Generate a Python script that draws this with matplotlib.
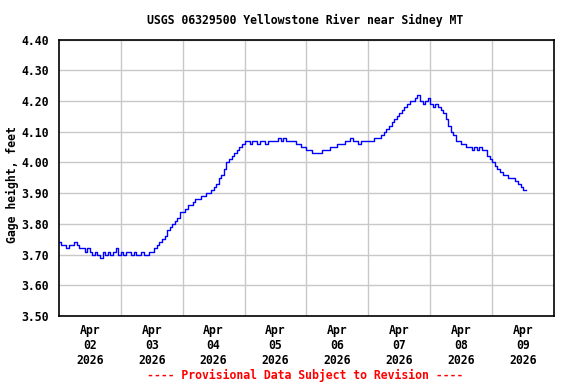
import numpy as np
import pandas as pd
import matplotlib
matplotlib.use("Agg")
import matplotlib.pyplot as plt

title = "USGS 06329500 Yellowstone River near Sidney MT"
ylabel = "Gage height, feet"
footer = "---- Provisional Data Subject to Revision ----"

# hourly gage height readings (feet), starting Apr 02 2026 00:00
apr02 = [3.74, 3.73, 3.73, 3.72, 3.73, 3.73, 3.74, 3.73, 3.72, 3.72, 3.71, 3.72,
         3.71, 3.70, 3.71, 3.70, 3.69, 3.71, 3.70, 3.71, 3.70, 3.71, 3.72, 3.70]
apr03 = [3.71, 3.70, 3.71, 3.71, 3.70, 3.71, 3.70, 3.70, 3.71, 3.70, 3.70, 3.71,
         3.71, 3.72, 3.73, 3.74, 3.75, 3.76, 3.78, 3.79, 3.80, 3.81, 3.82, 3.84]
apr04 = [3.84, 3.85, 3.86, 3.86, 3.87, 3.88, 3.88, 3.89, 3.89, 3.90, 3.90, 3.91,
         3.92, 3.93, 3.95, 3.96, 3.98, 4.00, 4.01, 4.02, 4.03, 4.04, 4.05, 4.06]
apr05 = [4.07, 4.07, 4.06, 4.07, 4.07, 4.06, 4.07, 4.07, 4.06, 4.07, 4.07, 4.07,
         4.07, 4.08, 4.07, 4.08, 4.07, 4.07, 4.07, 4.07, 4.06, 4.06, 4.05, 4.05]
apr06 = [4.04, 4.04, 4.03, 4.03, 4.03, 4.03, 4.04, 4.04, 4.04, 4.05, 4.05, 4.05,
         4.06, 4.06, 4.06, 4.07, 4.07, 4.08, 4.07, 4.07, 4.06, 4.07, 4.07, 4.07]
apr07 = [4.07, 4.07, 4.08, 4.08, 4.08, 4.09, 4.10, 4.11, 4.12, 4.13, 4.14, 4.15,
         4.16, 4.17, 4.18, 4.19, 4.20, 4.20, 4.21, 4.22, 4.20, 4.19, 4.20, 4.21]
apr08 = [4.19, 4.18, 4.19, 4.18, 4.17, 4.16, 4.14, 4.12, 4.10, 4.09, 4.07, 4.07,
         4.06, 4.06, 4.05, 4.05, 4.04, 4.05, 4.04, 4.05, 4.04, 4.04, 4.02, 4.01]
apr09 = [4.00, 3.99, 3.98, 3.97, 3.96, 3.96, 3.95, 3.95, 3.95, 3.94, 3.93, 3.92,
         3.91, 3.91]

yticks = [3.50, 3.60, 3.70, 3.80, 3.90, 4.00, 4.10, 4.20, 4.30, 4.40]
day_labels = ["Apr\n02\n2026", "Apr\n03\n2026", "Apr\n04\n2026", "Apr\n05\n2026",
              "Apr\n06\n2026", "Apr\n07\n2026", "Apr\n08\n2026", "Apr\n09\n2026"]


def main():
    height = np.array(apr02 + apr03 + apr04 + apr05 + apr06 + apr07 + apr08 + apr09)
    times = pd.date_range("2026-04-02 00:00", periods=len(height), freq="h")

    plt.rcParams["font.family"] = "DejaVu Sans Mono"
    plt.rcParams["font.weight"] = "bold"
    plt.rcParams["font.size"] = 8.3

    fig = plt.figure(figsize=(5.76, 3.84), dpi=100)
    ax = fig.add_axes([0.102, 0.177, 0.860, 0.720])

    ax.plot(times, height, color="#0000ff", lw=1.0, drawstyle="steps-post")

    start = pd.Timestamp("2026-04-02")
    end = pd.Timestamp("2026-04-10")
    ax.set_xlim(start, end)
    ax.set_ylim(3.50, 4.40)

    # gridlines at midnight, date labels at noon
    midnights = pd.date_range(start, end, freq="D")
    noons = midnights[:-1] + pd.Timedelta(hours=12)
    ax.set_xticks(midnights[1:-1], minor=False)
    ax.set_xticklabels([])
    ax.set_xticks(noons, minor=True)
    ax.set_xticklabels(day_labels, minor=True, fontweight="bold")
    ax.tick_params(axis="x", which="both", length=0, pad=6)
    ax.xaxis.grid(True, which="major", color="#c8c8c8", lw=1)

    ax.set_yticks(yticks)
    ax.set_yticklabels([f"{v:.2f}" for v in yticks], fontweight="bold")
    ax.tick_params(axis="y", length=0, pad=7)
    ax.yaxis.grid(True, color="#c8c8c8", lw=1)
    ax.set_axisbelow(True)

    for s in ax.spines.values():
        s.set_linewidth(1.2)
        s.set_color("black")

    fig.text(0.021, 0.52, ylabel, rotation=90, ha="center", va="center",
             fontweight="bold")
    fig.text(0.530, 0.948, title, ha="center", va="center", fontweight="bold")
    fig.text(0.530, 0.022, footer, ha="center", va="center", color="red",
             fontweight="bold")

    fig.savefig("out.png", dpi=100)
    plt.close(fig)


if __name__ == "__main__":
    main()
